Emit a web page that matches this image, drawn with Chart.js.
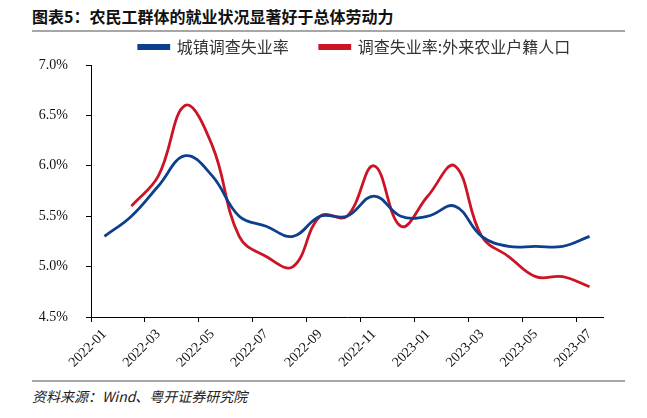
<!DOCTYPE html>
<html>
<head>
<meta charset="utf-8">
<script src="https://cdn.jsdelivr.net/npm/chart.js@4.4.0/dist/chart.umd.min.js"></script>
<style>
  body { margin: 0; background: #fff; }
  #wrap { position: relative; width: 647px; height: 418px; overflow: hidden; }
  #title { position: absolute; left: 32px; top: 4px; font: bold 16px "Noto Sans CJK SC", sans-serif; color: #111; white-space: nowrap; }
  .rule { position: absolute; left: 32px; width: 593px; background: #a6a6a6; }
  #source { position: absolute; left: 32px; top: 386px; font: italic 14px "Noto Sans CJK SC", serif; color: #222; white-space: nowrap; }
  #chart { position: absolute; left: 0; top: 8px; }
</style>
</head>
<body>
<div id="wrap">
  <div id="title">图表5：农民工群体的就业状况显著好于总体劳动力</div>
  <div class="rule" style="top:30px;height:2px;"></div>
  <canvas id="chart" width="647" height="372"></canvas>
  <div class="rule" style="top:380px;height:1.5px;"></div>
  <div id="source">资料来源：Wind、粤开证券研究院</div>
</div>
<script>
// 月份
const months = ['2022-01','2022-02','2022-03','2022-04','2022-05','2022-06','2022-07','2022-08','2022-09','2022-10',
                '2022-11','2022-12','2023-01','2023-02','2023-03','2023-04','2023-05','2023-06','2023-07'];
// 城镇调查失业率 (%)
const urbanRate = [5.3, 5.5, 5.8, 6.1, 5.9, 5.5, 5.4, 5.3, 5.5, 5.5, 5.7, 5.5, 5.5, 5.6, 5.3, 5.2, 5.2, 5.2, 5.3];
// 调查失业率:外来农业户籍人口 (%)
const migrantRate = [null, 5.6, 5.9, 6.6, 6.2, 5.3, 5.1, 5.0, 5.5, 5.5, 6.0, 5.4, 5.7, 6.0, 5.3, 5.1, 4.9, 4.9, 4.8];
const yTicks = [4.5, 5.0, 5.5, 6.0, 6.5, 7.0];

// 图例整体右移，与原图对齐
const legendShift = {
    id: 'legendShift',
    afterLayout(chart) {
        chart.legend.left += 38;
        chart.legend.right += 38;
    }
};

const serif = "'Liberation Serif', 'Times New Roman', serif";

new Chart(document.getElementById('chart'), {
    type: 'line',
    data: {
        labels: months,
        datasets: [{
            label: '城镇调查失业率',
            data: urbanRate,
            borderColor: '#0c3f8e',
            backgroundColor: '#0c3f8e',
            borderWidth: 2.8,
            pointRadius: 0,
            tension: 0.4
        }, {
            label: '调查失业率:外来农业户籍人口',
            data: migrantRate,
            borderColor: '#cc1426',
            backgroundColor: '#cc1426',
            borderWidth: 2.8,
            pointRadius: 0,
            tension: 0.4
        }]
    },
    options: {
        responsive: false,
        animation: false,
        layout: { padding: { left: 30, right: 44, top: 0, bottom: 0 } },
        plugins: {
            legend: {
                position: 'top',
                labels: {
                    boxWidth: 30,
                    boxHeight: 3,
                    padding: 31,
                    color: '#333',
                    font: { family: "'Noto Sans CJK SC', sans-serif", size: 16 }
                }
            },
            tooltip: { enabled: false }
        },
        scales: {
            x: {
                offset: true,
                afterFit: function(scale) { scale.height = 63; },
                grid: {
                    offset: true,
                    drawOnChartArea: false,
                    tickLength: 5,
                    tickColor: function(ctx) {
                        return (ctx.index % 2 === 0 && ctx.index < months.length) ? '#000' : 'rgba(0,0,0,0)';
                    }
                },
                border: { display: true, color: '#000', width: 1 },
                ticks: {
                    autoSkip: false,
                    minRotation: 45,
                    maxRotation: 45,
                    padding: 4,
                    color: '#111',
                    font: { family: serif, size: 14 },
                    callback: function(v, i) { return i % 2 === 0 ? months[i] : ''; }
                }
            },
            y: {
                min: yTicks[0],
                max: yTicks[yTicks.length - 1],
                afterFit: function(scale) { scale.width = 61; },
                afterBuildTicks: function(scale) {
                    scale.ticks = yTicks.map(function(v) { return { value: v }; });
                },
                grid: { drawOnChartArea: false, tickLength: 5, tickColor: '#000' },
                border: { display: true, color: '#000', width: 1 },
                ticks: {
                    padding: 18,
                    color: '#111',
                    font: { family: serif, size: 14 },
                    callback: function(v) { return v.toFixed(1) + '%'; }
                }
            }
        }
    },
    plugins: [legendShift]
});
</script>
</body>
</html>
